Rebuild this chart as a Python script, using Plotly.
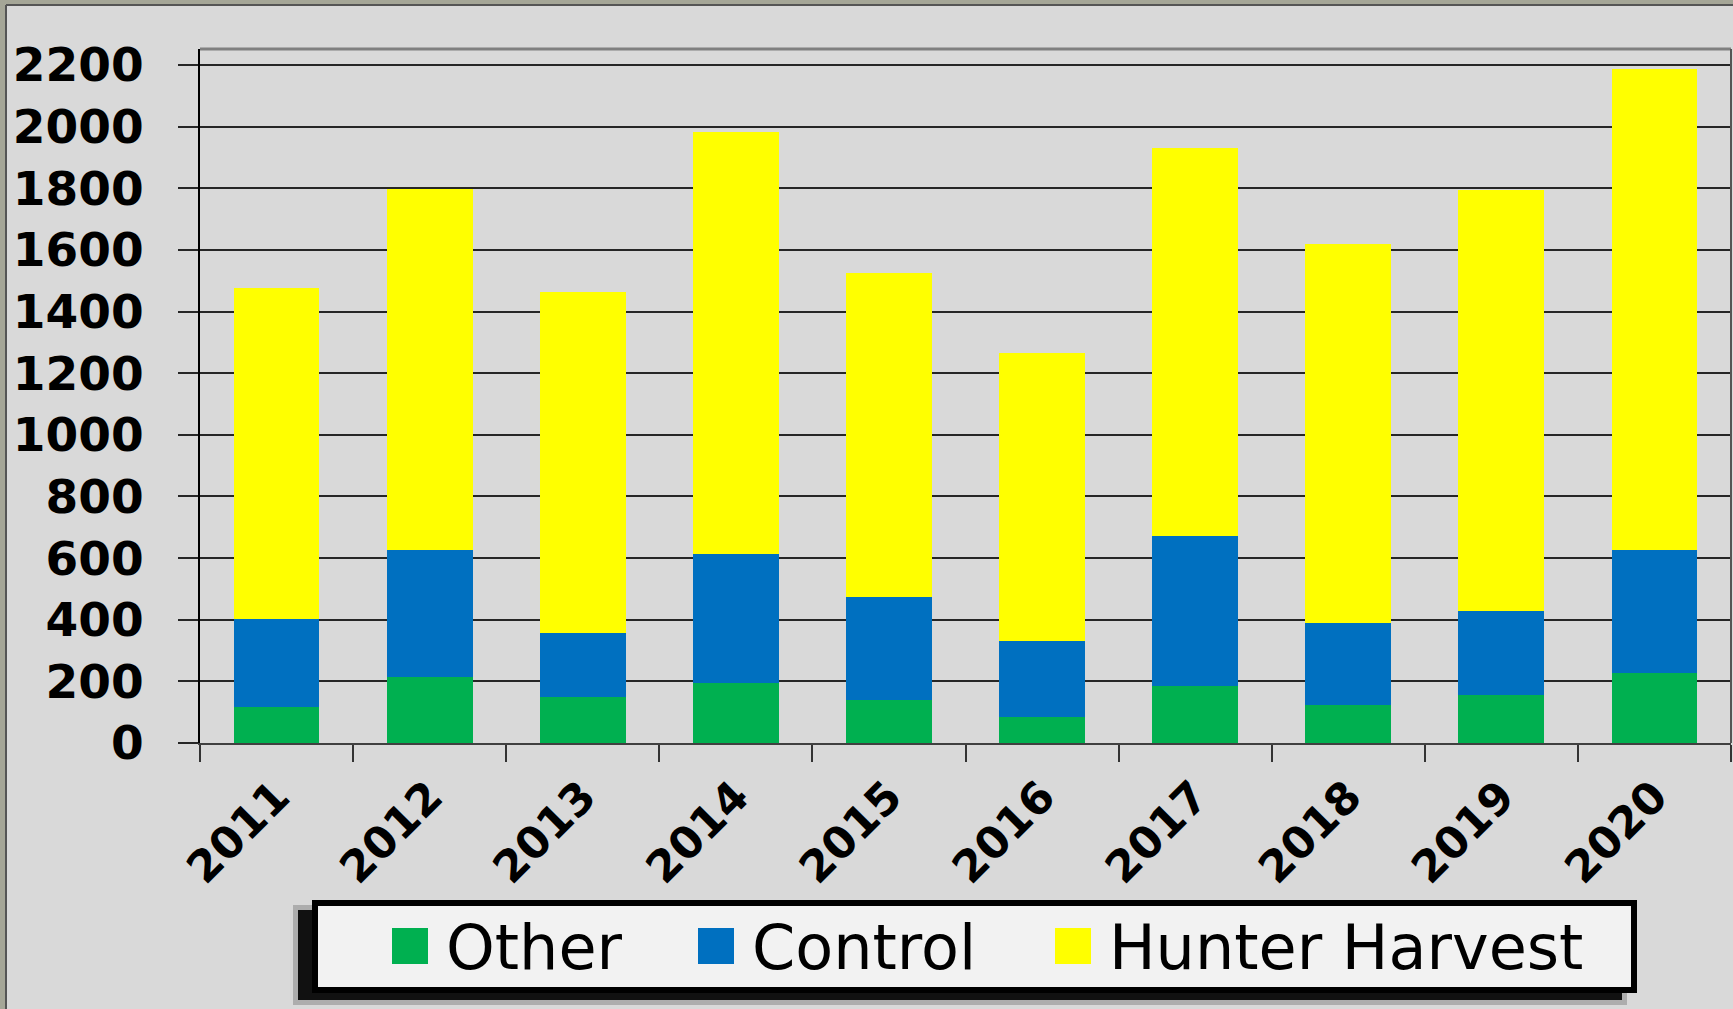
import plotly.graph_objects as go

years = ["2011", "2012", "2013", "2014", "2015", "2016", "2017", "2018", "2019", "2020"]
other = [116, 215, 150, 195, 141, 86, 186, 124, 157, 227]
control = [285, 411, 206, 419, 332, 245, 486, 266, 271, 400]
hunter = [1077, 1173, 1106, 1368, 1051, 936, 1260, 1230, 1367, 1559]
series_names = ["Other", "Control", "Hunter Harvest"]
series_colors = ["#00b050", "#0070c0", "#ffff00"]
y_ticks = list(range(0, 2201, 200))

W, H = 1733, 1009
L, R, T, B = 200, 2, 49, 266
PW, PH = W - L - R, H - T - B


def px(x):
    return (x - L) / PW


def py(y):
    return (H - B - y) / PH


fig = go.Figure()
for name, vals, col in zip(series_names, [other, control, hunter], series_colors):
    fig.add_trace(go.Bar(x=years, y=vals, name=name, marker=dict(color=col, line=dict(width=0)),
                         showlegend=False))

shapes = []
# outer frame
frame_col = "#a5a697"
shapes.append(dict(type="rect", xref="paper", yref="paper", x0=px(0), x1=px(6), y0=py(H), y1=py(0),
                   fillcolor=frame_col, line=dict(width=0), layer="below"))
shapes.append(dict(type="rect", xref="paper", yref="paper", x0=px(0), x1=px(W), y0=py(5), y1=py(0),
                   fillcolor=frame_col, line=dict(width=0), layer="below"))
shapes.append(dict(type="line", xref="paper", yref="paper", x0=px(6), x1=px(6), y0=py(5), y1=py(H),
                   line=dict(color="#555555", width=2)))
shapes.append(dict(type="line", xref="paper", yref="paper", x0=px(6), x1=px(W), y0=py(5), y1=py(5),
                   line=dict(color="#555555", width=2)))
# plot area border (top and right)
shapes.append(dict(type="line", xref="paper", yref="paper", x0=0, x1=1, y0=1, y1=1,
                   line=dict(color="#808080", width=3)))
shapes.append(dict(type="line", xref="paper", yref="paper", x0=1, x1=1, y0=0, y1=1,
                   line=dict(color="#555555", width=2)))
# legend shadow
shapes.append(dict(type="rect", xref="paper", yref="paper", x0=px(293), x1=px(1627), y0=py(1005), y1=py(905),
                   fillcolor="rgba(0,0,0,0.2)", line=dict(width=0)))
shapes.append(dict(type="rect", xref="paper", yref="paper", x0=px(298), x1=px(1622), y0=py(1000), y1=py(910),
                   fillcolor="rgba(0,0,0,0.9)", line=dict(width=0)))
# legend box
shapes.append(dict(type="rect", xref="paper", yref="paper", x0=px(315), x1=px(1634), y0=py(990), y1=py(903),
                   fillcolor="#f2f2f2", line=dict(color="black", width=6)))

annotations = []
sq_x = [392, 698, 1055]
txt_x = [444, 750, 1107]
for name, col, sx, tx in zip(series_names, series_colors, sq_x, txt_x):
    shapes.append(dict(type="rect", xref="paper", yref="paper", x0=px(sx), x1=px(sx + 36),
                       y0=py(964), y1=py(928), fillcolor=col, line=dict(width=0)))
    annotations.append(dict(text=name, xref="paper", yref="paper", x=px(tx), y=py(947),
                            xanchor="left", yanchor="middle", showarrow=False,
                            font=dict(family="DejaVu Sans", size=62, color="black")))

fig.update_layout(
    width=W, height=H,
    barmode="stack", bargap=0.44,
    margin=dict(l=L, r=R, t=T, b=B, pad=0),
    paper_bgcolor="#d9d9d9", plot_bgcolor="#d9d9d9",
    shapes=shapes, annotations=annotations,
    showlegend=False,
)
fig.update_xaxes(
    type="category", showgrid=False, showline=True, linecolor="#404040", linewidth=2,
    ticks="outside", tickson="boundaries", ticklen=17, tickwidth=2, tickcolor="#333333",
    tickangle=-45, ticklabelstandoff=8,
    tickfont=dict(family="DejaVu Sans", size=44, color="black", weight="bold"),
)
fig.update_yaxes(
    range=[0, 2252], tickvals=y_ticks, ticktext=[str(v) for v in y_ticks],
    showgrid=True, gridcolor="#262626", gridwidth=2, zeroline=False,
    showline=True, linecolor="black", linewidth=2,
    ticks="outside", ticklen=20, tickwidth=2, tickcolor="#262626",
    ticklabelstandoff=25,
    tickfont=dict(family="DejaVu Sans", size=47, color="black", weight="bold"),
)
fig.write_html("out.html", config={"displayModeBar": False},
               post_script="document.body.style.margin='0';document.body.style.overflow='hidden';")
